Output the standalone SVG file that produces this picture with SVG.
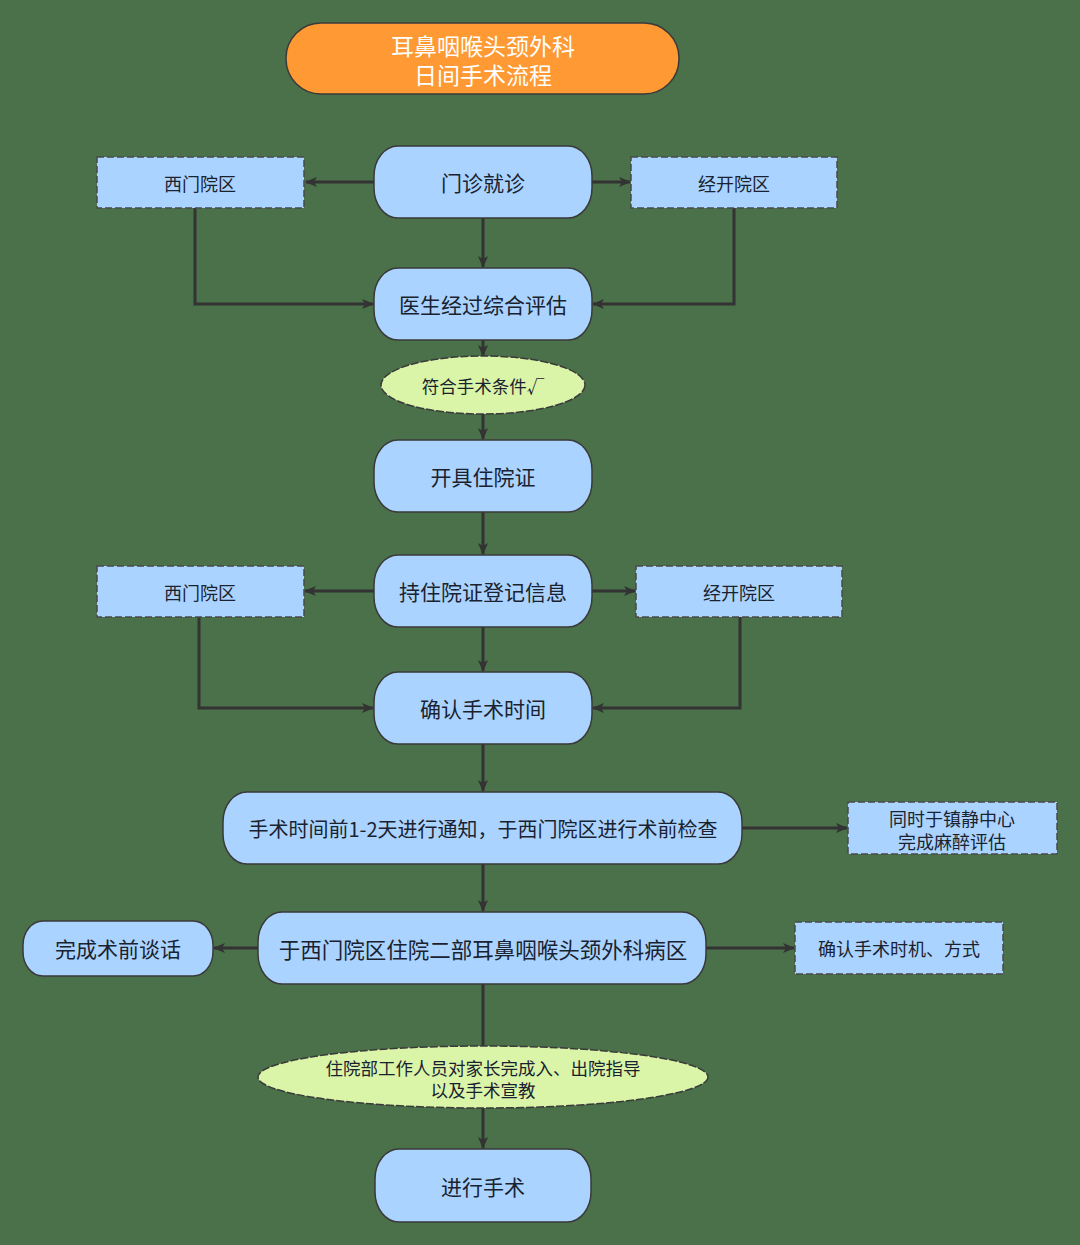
<svg xmlns="http://www.w3.org/2000/svg" width="1080" height="1245" viewBox="0 0 1080 1245">
<defs>
<marker id="arr" viewBox="0 0 12 10" refX="11" refY="5" markerWidth="12" markerHeight="10" markerUnits="userSpaceOnUse" orient="auto">
<path d="M0,0 L12,5 L0,10 L3,5 z" fill="#333333"/>
</marker>
<style>
.bg{fill:#4a7149}
.node{fill:#aad4ff;stroke:#3a3a3a;stroke-width:1.5}
.dash{fill:#aad4ff;stroke:#4a4a4a;stroke-width:1.5;stroke-dasharray:7 3}
.ell{fill:#daf5a8;stroke:#3a3a3a;stroke-width:1.5;stroke-dasharray:8 2}
.title{fill:#ff9933;stroke:#3a3a3a;stroke-width:1.5}
.t{font-family:"Noto Sans CJK SC","Noto Sans",sans-serif;fill:#1a2230;text-anchor:middle;dominant-baseline:central}
.tw{font-family:"Noto Sans CJK SC","Noto Sans",sans-serif;fill:#ffffff;text-anchor:middle;dominant-baseline:central;font-size:23px}
.m{font-size:21px}
.s{font-size:18px}
.e{font-size:17.5px}
.c{fill:none;stroke:#333333;stroke-width:3}
</style>
</defs>
<rect class="bg" x="0" y="0" width="1080" height="1245"/>
<g id="connectors">
<path class="c" d="M374,182 H306" marker-end="url(#arr)"/>
<path class="c" d="M592,182 H630" marker-end="url(#arr)"/>
<path class="c" d="M483,218 V267" marker-end="url(#arr)"/>
<path class="c" d="M195,208 V304 H373" marker-end="url(#arr)"/>
<path class="c" d="M734,208 V304 H593" marker-end="url(#arr)"/>
<path class="c" d="M483,340 V356" marker-end="url(#arr)"/>
<path class="c" d="M483,414 V439" marker-end="url(#arr)"/>
<path class="c" d="M483,512 V554" marker-end="url(#arr)"/>
<path class="c" d="M374,591 H305" marker-end="url(#arr)"/>
<path class="c" d="M592,591 H635" marker-end="url(#arr)"/>
<path class="c" d="M483,627 V671" marker-end="url(#arr)"/>
<path class="c" d="M199,617 V708 H373" marker-end="url(#arr)"/>
<path class="c" d="M740,617 V708 H593" marker-end="url(#arr)"/>
<path class="c" d="M483,744 V791" marker-end="url(#arr)"/>
<path class="c" d="M742,828 H847" marker-end="url(#arr)"/>
<path class="c" d="M483,864 V911" marker-end="url(#arr)"/>
<path class="c" d="M258,948 H214" marker-end="url(#arr)"/>
<path class="c" d="M706,948 H794" marker-end="url(#arr)"/>
<path class="c" d="M483,984 V1046"/>
<path class="c" d="M483,1108 V1148" marker-end="url(#arr)"/>
</g>
<g id="title">
<rect class="title" x="286" y="23" width="393" height="71" rx="35" ry="35"/>
<text class="tw" x="483" y="45">耳鼻咽喉头颈外科</text>
<text class="tw" x="483" y="74">日间手术流程</text>
</g>
<g id="n_menzhen">
<rect class="node" x="374" y="146" width="218" height="72" rx="24" ry="30"/>
<text class="t m" x="483" y="182">门诊就诊</text>
</g>
<g id="n_ximen1">
<rect class="dash" x="97" y="157" width="207" height="51"/>
<text class="t s" x="200" y="183">西门院区</text>
</g>
<g id="n_jingkai1">
<rect class="dash" x="631" y="157" width="206" height="51"/>
<text class="t s" x="734" y="183">经开院区</text>
</g>
<g id="n_pinggu">
<rect class="node" x="374" y="268" width="218" height="72" rx="24" ry="30"/>
<text class="t m" x="483" y="304">医生经过综合评估</text>
</g>
<g id="n_fuhe">
<ellipse class="ell" cx="483" cy="385" rx="102" ry="29"/>
<text class="t e" x="483" y="385">符合手术条件√</text>
</g>
<g id="n_kaiju">
<rect class="node" x="374" y="440" width="218" height="72" rx="24" ry="30"/>
<text class="t m" x="483" y="476">开具住院证</text>
</g>
<g id="n_dengji">
<rect class="node" x="374" y="555" width="218" height="72" rx="24" ry="30"/>
<text class="t m" x="483" y="591">持住院证登记信息</text>
</g>
<g id="n_ximen2">
<rect class="dash" x="97" y="566" width="207" height="51"/>
<text class="t s" x="200" y="592">西门院区</text>
</g>
<g id="n_jingkai2">
<rect class="dash" x="636" y="566" width="206" height="51"/>
<text class="t s" x="739" y="592">经开院区</text>
</g>
<g id="n_queren">
<rect class="node" x="374" y="672" width="218" height="72" rx="24" ry="30"/>
<text class="t m" x="483" y="708">确认手术时间</text>
</g>
<g id="n_tongzhi">
<rect class="node" x="223" y="792" width="519" height="72" rx="24" ry="30"/>
<text class="t" style="font-size:20px" x="483" y="828">手术时间前1-2天进行通知，于西门院区进行术前检查</text>
</g>
<g id="n_mazui">
<rect class="dash" x="848" y="802" width="209" height="52"/>
<text class="t s" x="952" y="818">同时于镇静中心</text>
<text class="t s" x="952" y="841">完成麻醉评估</text>
</g>
<g id="n_zhuyuan">
<rect class="node" x="258" y="912" width="448" height="72" rx="24" ry="30"/>
<text class="t" style="font-size:21.5px" x="483" y="948">于西门院区住院二部耳鼻咽喉头颈外科病区</text>
</g>
<g id="n_tanhua">
<rect class="node" x="23" y="921" width="190" height="55" rx="20" ry="24"/>
<text class="t m" x="118" y="948">完成术前谈话</text>
</g>
<g id="n_shiji">
<rect class="dash" x="795" y="922" width="208" height="52"/>
<text class="t s" x="899" y="948">确认手术时机、方式</text>
</g>
<g id="n_zhidao">
<ellipse class="ell" cx="483" cy="1077" rx="225" ry="31"/>
<text class="t e" x="483" y="1067">住院部工作人员对家长完成入、出院指导</text>
<text class="t e" x="483" y="1089">以及手术宣教</text>
</g>
<g id="n_shoushu">
<rect class="node" x="375" y="1149" width="216" height="73" rx="24" ry="30"/>
<text class="t m" x="483" y="1186">进行手术</text>
</g>
</svg>
